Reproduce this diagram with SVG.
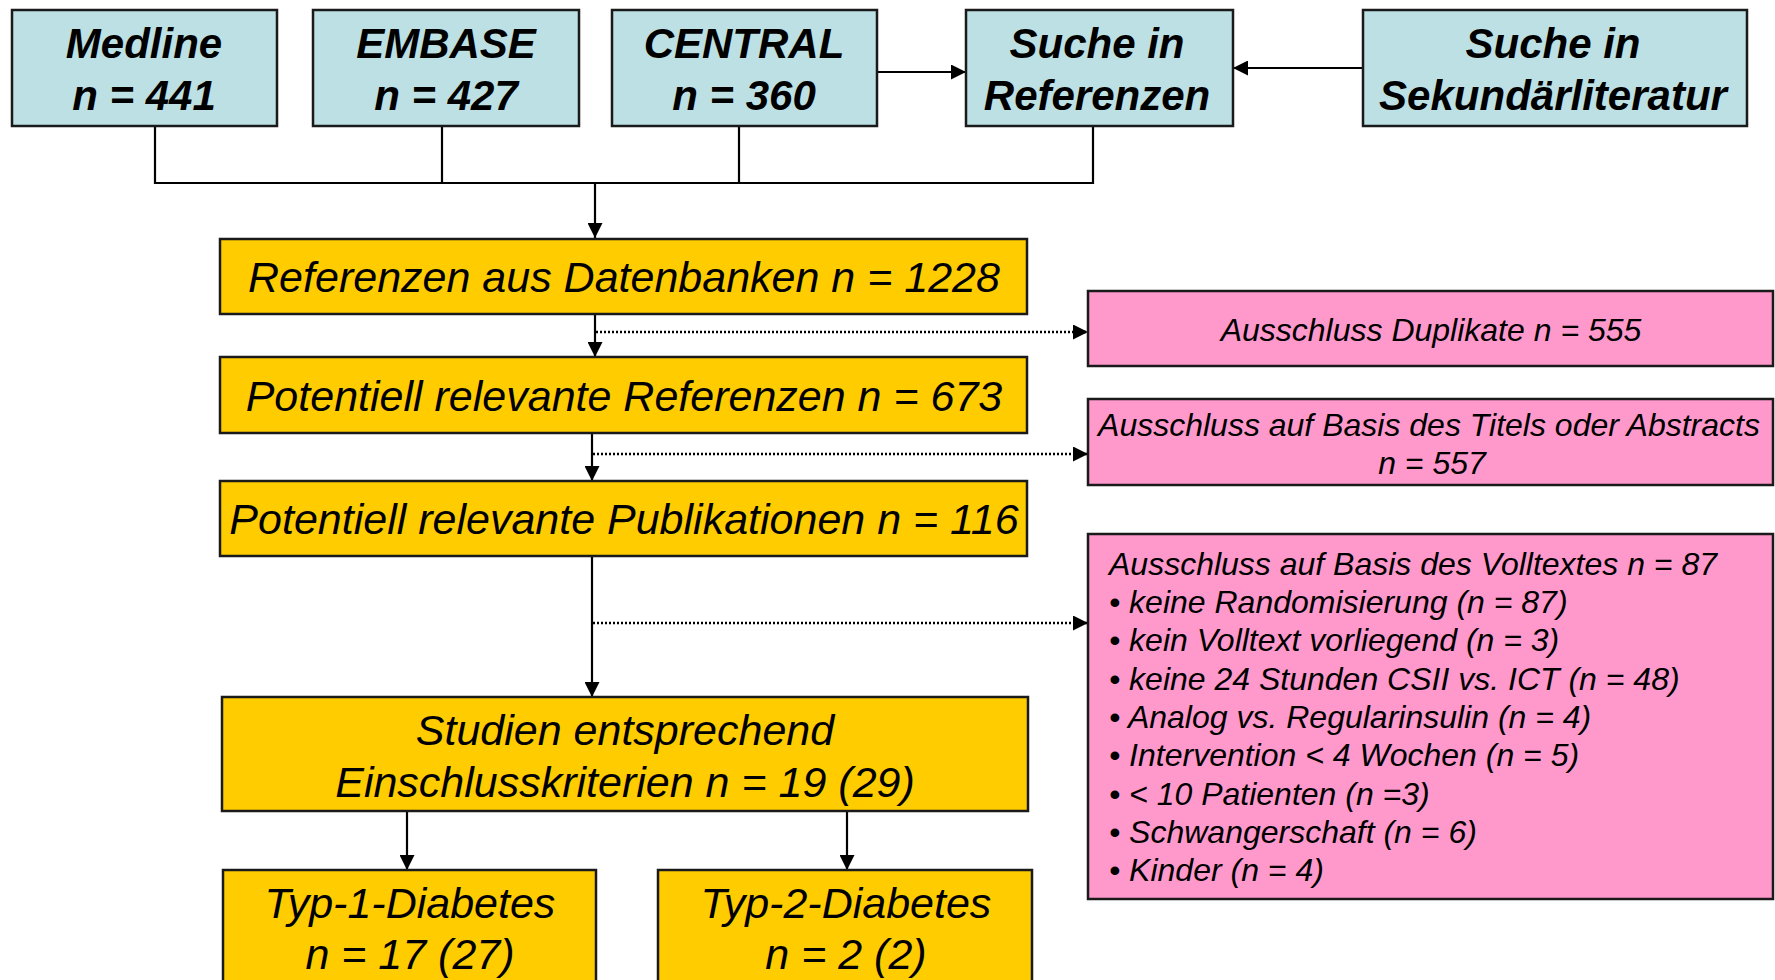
<svg xmlns="http://www.w3.org/2000/svg" width="1775" height="980" viewBox="0 0 1775 980">
<defs>
<style>
.box{stroke:#1a1a1a;stroke-width:2.5}
.blue{fill:#BCE0E3}
.yellow{fill:#FFCC00}
.pink{fill:#FF99CC}
text{font-family:"Liberation Sans",Arial,sans-serif;font-style:italic;fill:#000}
.b{font-weight:bold;font-size:42px;text-anchor:middle}
.y{font-size:43px;text-anchor:middle}
.p{font-size:32px}
.c{text-anchor:middle}
.ln{stroke:#000;stroke-width:2.2;fill:none}
.dot{stroke:#000;stroke-width:2.4;fill:none;stroke-dasharray:2 2}
</style>
<marker id="ah" markerWidth="15" markerHeight="15" refX="15" refY="7.5" orient="auto" markerUnits="userSpaceOnUse">
<path d="M0,0 L15,7.5 L0,15 z" fill="#000"/>
</marker>
</defs>
<rect width="1775" height="980" fill="#fff"/>

<g id="connectors">
<polyline class="ln" points="155,127 155,183 1093,183 1093,127"/>
<line class="ln" x1="442" y1="127" x2="442" y2="183"/>
<line class="ln" x1="739" y1="127" x2="739" y2="183"/>
<line class="ln" x1="595" y1="183" x2="595" y2="238" marker-end="url(#ah)"/>
<line class="ln" x1="877" y1="72" x2="966" y2="72" marker-end="url(#ah)"/>
<line class="ln" x1="1363" y1="68" x2="1233" y2="68" marker-end="url(#ah)"/>
<line class="ln" x1="595" y1="314" x2="595" y2="357" marker-end="url(#ah)"/>
<line class="dot" x1="596" y1="332" x2="1088" y2="332" marker-end="url(#ah)"/>
<line class="ln" x1="592" y1="434" x2="592" y2="481" marker-end="url(#ah)"/>
<line class="dot" x1="593" y1="454" x2="1088" y2="454" marker-end="url(#ah)"/>
<line class="ln" x1="592" y1="557" x2="592" y2="697" marker-end="url(#ah)"/>
<line class="dot" x1="593" y1="623" x2="1088" y2="623" marker-end="url(#ah)"/>
<line class="ln" x1="407" y1="812" x2="407" y2="870" marker-end="url(#ah)"/>
<line class="ln" x1="847" y1="812" x2="847" y2="870" marker-end="url(#ah)"/>
</g>

<g id="medline">
<rect class="box blue" x="12" y="10" width="265" height="116"/>
<text class="b" x="144" y="58">Medline</text>
<text class="b" x="144" y="110">n = 441</text>
</g>
<g id="embase">
<rect class="box blue" x="313" y="10" width="266" height="116"/>
<text class="b" x="446" y="58">EMBASE</text>
<text class="b" x="446" y="110">n = 427</text>
</g>
<g id="central">
<rect class="box blue" x="612" y="10" width="265" height="116"/>
<text class="b" x="744" y="58">CENTRAL</text>
<text class="b" x="744" y="110">n = 360</text>
</g>
<g id="suche-referenzen">
<rect class="box blue" x="966" y="10" width="267" height="116"/>
<text class="b" x="1097" y="58">Suche in</text>
<text class="b" x="1097" y="110">Referenzen</text>
</g>
<g id="suche-sekundaer">
<rect class="box blue" x="1363" y="10" width="384" height="116"/>
<text class="b" x="1553" y="58">Suche in</text>
<text class="b" x="1553" y="110">Sekundärliteratur</text>
</g>

<g id="referenzen-datenbanken">
<rect class="box yellow" x="220" y="239" width="807" height="75"/>
<text class="y" x="624" y="292">Referenzen aus Datenbanken n = 1228</text>
</g>
<g id="relevante-referenzen">
<rect class="box yellow" x="220" y="357" width="807" height="76"/>
<text class="y" x="624" y="411">Potentiell relevante Referenzen n = 673</text>
</g>
<g id="relevante-publikationen">
<rect class="box yellow" x="220" y="481" width="807" height="75"/>
<text class="y" x="624" y="534">Potentiell relevante Publikationen n = 116</text>
</g>
<g id="studien">
<rect class="box yellow" x="222" y="697" width="806" height="114"/>
<text class="y" x="625" y="745">Studien entsprechend</text>
<text class="y" x="625" y="797">Einschlusskriterien n = 19 (29)</text>
</g>
<g id="typ1">
<rect class="box yellow" x="223" y="870" width="373" height="130"/>
<text class="y" x="410" y="918">Typ-1-Diabetes</text>
<text class="y" x="410" y="969">n = 17 (27)</text>
</g>
<g id="typ2">
<rect class="box yellow" x="658" y="870" width="374" height="130"/>
<text class="y" x="846" y="918">Typ-2-Diabetes</text>
<text class="y" x="846" y="969">n = 2 (2)</text>
</g>

<g id="duplikate">
<rect class="box pink" x="1088" y="291" width="685" height="75"/>
<text class="p c" x="1431" y="341">Ausschluss Duplikate n = 555</text>
</g>
<g id="titel-abstract">
<rect class="box pink" x="1088" y="399" width="685" height="86"/>
<text class="p c" x="1429" y="436">Ausschluss auf Basis des Titels oder Abstracts</text>
<text class="p c" x="1432" y="474">n = 557</text>
</g>
<g id="volltext">
<rect class="box pink" x="1088" y="534" width="685" height="365"/>
<text class="p" x="1109" y="575">Ausschluss auf Basis des Volltextes n = 87</text>
<text class="p" x="1109" y="613">• keine Randomisierung (n = 87)</text>
<text class="p" x="1109" y="651">• kein Volltext vorliegend (n = 3)</text>
<text class="p" x="1109" y="690">• keine 24 Stunden CSII vs. ICT (n = 48)</text>
<text class="p" x="1109" y="728">• Analog vs. Regularinsulin (n = 4)</text>
<text class="p" x="1109" y="766">• Intervention &lt; 4 Wochen (n = 5)</text>
<text class="p" x="1109" y="805">• &lt; 10 Patienten (n =3)</text>
<text class="p" x="1109" y="843">• Schwangerschaft (n = 6)</text>
<text class="p" x="1109" y="881">• Kinder (n = 4)</text>
</g>
</svg>
